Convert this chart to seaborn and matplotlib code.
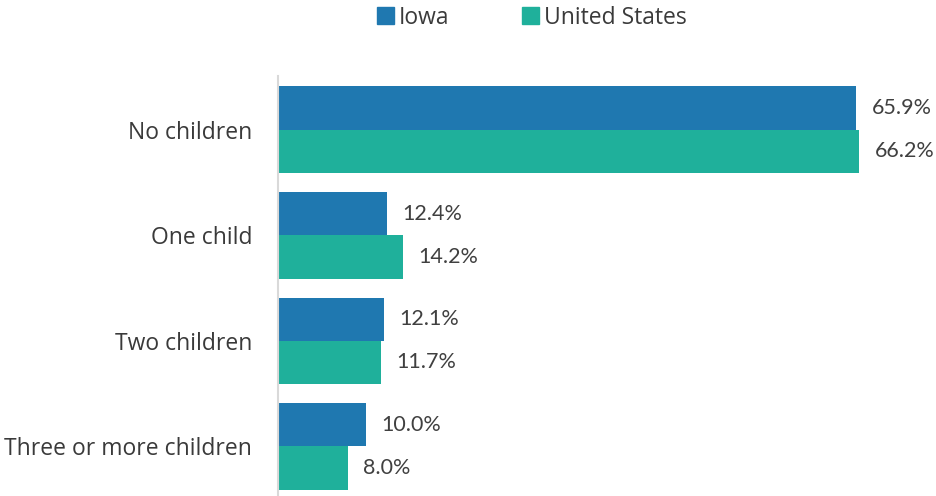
import matplotlib
matplotlib.use("Agg")
import matplotlib.pyplot as plt
import seaborn as sns
import pandas as pd

categories = ["No children", "One child", "Two children", "Three or more children"]
iowa = [65.9, 12.4, 12.1, 10.0]
united_states = [66.2, 14.2, 11.7, 8.0]
series = ["Iowa", "United States"]
colors = ["#1F78B0", "#1FB09B"]

sns.set_theme(style="white")
plt.rcParams["font.family"] = ["Open Sans", "DejaVu Sans"]

df = pd.DataFrame({
    "Category": categories * 2,
    "Share": iowa + united_states,
    "Area": [series[0]] * len(categories) + [series[1]] * len(categories),
})

fig = plt.figure(figsize=(9.36, 4.96), dpi=100)
ax = fig.add_axes([0.297, 0.0, 0.694, 0.847])

sns.barplot(data=df, y="Category", x="Share", hue="Area", orient="h",
            palette=colors, width=0.82, gap=0, saturation=1, ax=ax,
            linewidth=0)

for cont in ax.containers:
    ax.bar_label(cont, labels=[f"{v:.1f}%" for v in cont.datavalues],
                 padding=11, fontsize=15.5, color="#404040",
                 family=["Lato", "DejaVu Sans"])

ax.set_xlim(0, 74)
ax.set_ylim(3.47, -0.51)
ax.set_xlabel("")
ax.set_ylabel("")
ax.set_xticks([])
ax.tick_params(axis="y", length=0, pad=18.5, labelsize=16.5, labelcolor="#3A3A3A")
for s in ["top", "right", "bottom"]:
    ax.spines[s].set_visible(False)
ax.spines["left"].set_color("#D9D9D9")
ax.spines["left"].set_linewidth(1.5)

ax.legend_.remove()
handles = [plt.Rectangle((0, 0), 1, 1, color=c) for c in colors]
fig.legend(handles, series, loc="upper center", bbox_to_anchor=(0.568, 1.03),
           ncol=2, frameon=False, fontsize=16.5, handlelength=0.75,
           handleheight=0.75, handletextpad=0.2, columnspacing=3.2,
           labelcolor="#3A3A3A")

fig.savefig("out.png", dpi=100)
